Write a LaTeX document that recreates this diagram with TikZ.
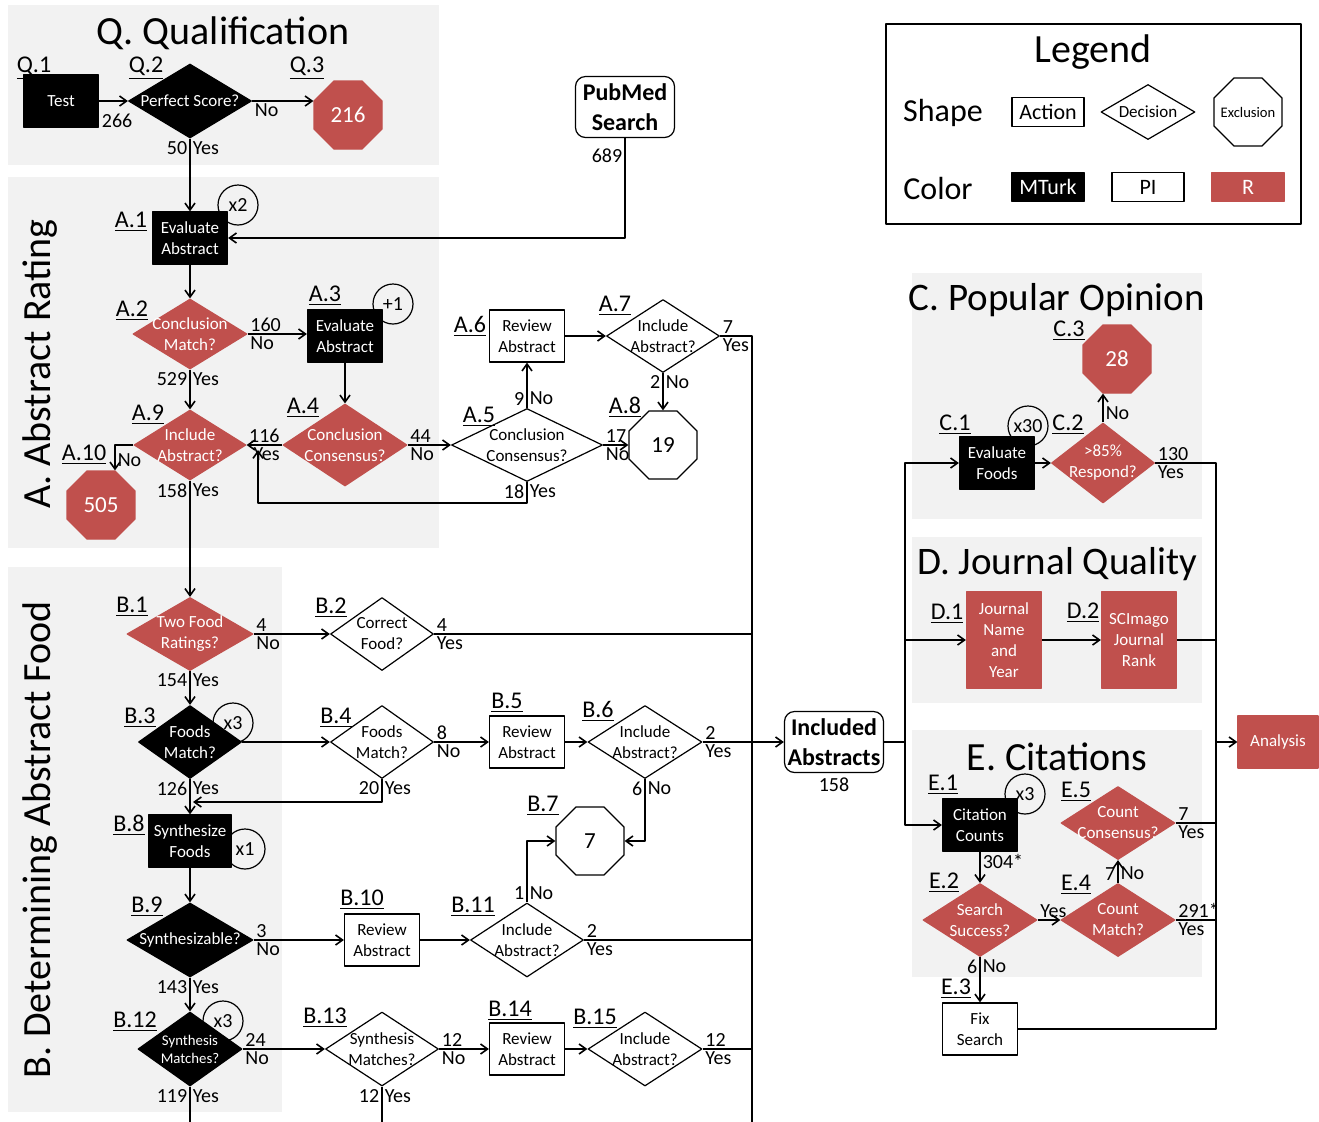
\documentclass[tikz,border=0pt]{standalone}
\usepackage{fontspec}
\setmainfont{Carlito}
\usetikzlibrary{arrows.meta, positioning, calc, shapes.geometric}

\definecolor{rred}{HTML}{C0504D}
\definecolor{panel}{HTML}{F2F2F2}

\begin{document}
\begin{tikzpicture}[x=0.5pt, y=-0.5pt, line width=0.8pt, >={Straight Barb[length=3.5pt, width=5pt]}, line join=round]

	%======================
	% SIZES (edit here)
	%======================
	\def\bw{37.5pt}      % action box width
	\def\bh{26pt}        % action box height
	\def\oct{36.8pt}     % octagon (circumscribed) size
	
	% Styles
	\tikzset{
		base/.style={font=\fontsize{8.5}{10.5}\selectfont, align=center, inner sep=0pt, line width=0.6pt},
		act/.style={base, rectangle, minimum width=\bw, minimum height=\bh},
		dec/.style={base, diamond, inner sep=-12pt, minimum width=57pt, minimum height=36.5pt},
		oct/.style={base, regular polygon, regular polygon sides=8, minimum size=\oct, font=\fontsize{11.5}{13}\selectfont},
		circ/.style={base, circle, draw, minimum size=20pt, font=\fontsize{10}{12}\selectfont},
		src/.style={base, rectangle, draw, fill=white, rounded corners=5pt, minimum width=49.5pt, minimum height=30.5pt, font=\bfseries\fontsize{12}{15}\selectfont},
		lgbox/.style={act, minimum width=36pt, minimum height=14.5pt, font=\fontsize{11}{13}\selectfont},
		mturk/.style={fill=black, draw=black, text=white},
		pinv/.style={fill=white, draw=black, text=black},
		rcol/.style={fill=rred, draw=rred, text=white},
		stp/.style={font=\fontsize{12}{14}\selectfont, inner sep=0pt},
		cnt/.style={font=\fontsize{10}{12}\selectfont, inner sep=1pt},
		ttl/.style={font=\fontsize{20}{24}\selectfont, inner sep=0pt}
	}
	
	\useasboundingbox (0,0) rectangle (1319,1121);
	\clip (0,0) rectangle (1319,1121);
	\fill[white] (0,0) rectangle (1319,1121);
	
	%======================
	% PANELS AND TITLES
	%======================
	\fill[panel] (8,5) rectangle (439,165);
	\fill[panel] (8,177) rectangle (439,548);
	\fill[panel] (8,567) rectangle (282,1112);
	\fill[panel] (912,273) rectangle (1202,519);
	\fill[panel] (912,537) rectangle (1202,703);
	\fill[panel] (912,730) rectangle (1202,977);
	
	\node[ttl, anchor=base] (t-q) at (223,44) {Q. Qualification};
	\node[ttl, rotate=90] (t-a) at (40,364) {A. Abstract Rating};
	\node[ttl, rotate=90] (t-b) at (40,840) {B. Determining Abstract Food};
	\node[ttl, font=\fontsize{19.5}{23}\selectfont] (t-c) at (1057,300) {C. Popular Opinion};
	\node[ttl, font=\fontsize{19.5}{23}\selectfont] (t-d) at (1057,564) {D. Journal Quality};
	\node[ttl] (t-e) at (1057,757) {E. Citations};
	
	%======================
	% LEGEND
	%======================
	\draw[line width=0.6pt] (886,24) rectangle (1301,224);
	\node[ttl] (lg-title) at (1093,52) {Legend};
	\node[font=\fontsize{16}{19}\selectfont, inner sep=0pt] (lg-shape) at (943,113) {Shape};
	\node[font=\fontsize{16}{19}\selectfont, inner sep=0pt] (lg-color) at (938,188) {Color};
	\node[lgbox, pinv] (lg-act) at (1048,112) {Action};
	\node[dec, pinv, minimum width=47pt, minimum height=27.5pt] (lg-dec) at (1148,112) {Decision};
	\node[oct, pinv, inner sep=-6pt, font=\fontsize{7.3}{9}\selectfont] (lg-exc) at (1248,112) {Exclusion};
	\node[lgbox, mturk] (lg-mt) at (1048,187) {MTurk};
	\node[lgbox, pinv] (lg-pi) at (1148,187) {PI};
	\node[lgbox, rcol] (lg-r) at (1248,187) {R};
	
	%======================
	% REPEAT CIRCLES (behind the boxes)
	%======================
	\node[circ] (r-a1) at (238,205) {x2};
	\node[circ] (r-a3) at (393,304) {+1};
	\node[circ] (r-b3) at (233,723) {x3};
	\node[circ] (r-b8) at (245,849) {x1};
	\node[circ] (r-b12) at (223,1021) {x3};
	\node[circ] (r-c1) at (1028,426) {x30};
	\node[circ] (r-e1) at (1025,794) {x3};
	
	%======================
	% Q. QUALIFICATION
	%======================
	\node[act, mturk] (q1) at (61,101) {Test};
	\node[dec, mturk, minimum width=61.5pt, minimum height=37pt] (q2) at (190,101) {Perfect Score?};
	\node[oct, rcol] (q3) at (348,115) {216};
	\node[src] (pub) at (625,107) {PubMed\\Search};
	
	%======================
	% A. ABSTRACT RATING
	%======================
	\node[act, mturk] (a1) at (190,238) {Evaluate\\Abstract};
	\node[dec, rcol, minimum height=35pt] (a2) at (190,334) {Conclusion\\Match?};
	\node[act, mturk] (a3) at (345,336) {Evaluate\\Abstract};
	\node[dec, rcol, minimum width=62pt, minimum height=41pt] (a4) at (345,445) {Conclusion\\Consensus?};
	\node[dec, pinv, minimum width=75.5pt] (a5) at (527,445) {Conclusion\\Consensus?};
	\node[act, pinv] (a6) at (527,336) {Review\\Abstract};
	\node[dec, pinv, minimum width=56.5pt] (a7) at (663,336) {Include\\Abstract?};
	\node[oct, pinv] (a8) at (663,445) {19};
	\node[dec, rcol, minimum width=56pt, minimum height=35pt] (a9) at (190,445) {Include\\Abstract?};
	\node[oct, rcol] (a10) at (101,505) {505};
	
	%======================
	% B. DETERMINING ABSTRACT FOOD
	%======================
	\node[dec, rcol, minimum width=63pt] (b1) at (190,634) {Two Food\\Ratings?};
	\node[dec, pinv, minimum width=51.5pt] (b2) at (382,634) {Correct\\Food?};
	\node[dec, mturk, minimum width=51.5pt] (b3) at (190,742) {Foods\\Match?};
	\node[dec, pinv, minimum width=51.5pt] (b4) at (382,742) {Foods\\Match?};
	\node[act, pinv] (b5) at (527,742) {Review\\Abstract};
	\node[dec, pinv] (b6) at (645,742) {Include\\Abstract?};
	\node[oct, pinv] (b7) at (590,841) {7};
	\node[act, mturk, minimum width=41.5pt] (b8) at (190,841) {Synthesize\\Foods};
	\node[dec, mturk, minimum width=63pt, minimum height=37pt] (b9) at (190,940) {Synthesizable?};
	\node[act, pinv] (b10) at (382,940) {Review\\Abstract};
	\node[dec, pinv, minimum width=56.5pt, minimum height=37pt] (b11) at (527,940) {Include\\Abstract?};
	\node[dec, mturk, minimum width=52pt, minimum height=37pt, font=\fontsize{7.4}{9}\selectfont] (b12) at (190,1049) {Synthesis\\Matches?};
	\node[dec, pinv, minimum width=56.5pt, minimum height=37pt] (b13) at (382,1049) {Synthesis\\Matches?};
	\node[act, pinv] (b14) at (527,1049) {Review\\Abstract};
	\node[dec, pinv, minimum height=37pt] (b15) at (645,1049) {Include\\Abstract?};
	
	\node[src, label={[cnt, yshift=-1pt]below:158}] (ia) at (834,742) {Included\\Abstracts};
	
	%======================
	% C, D, E AND ANALYSIS
	%======================
	\node[act, mturk] (c1) at (997,463) {Evaluate\\Foods};
	\node[dec, rcol, minimum width=51.5pt, minimum height=40pt] (c2) at (1103,463) {>85\%\\Respond?};
	\node[oct, rcol] (c3) at (1117,359) {28};
	\node[act, rcol, minimum height=48pt] (d1) at (1004,640) {Journal\\Name\\and\\Year};
	\node[act, rcol, minimum height=48pt] (d2) at (1139,640) {SCImago\\Journal\\Rank};
	\node[act, mturk] (e1) at (980,825) {Citation\\Counts};
	\node[dec, rcol] (e2) at (980,920) {Search\\Success?};
	\node[act, pinv] (e3) at (980,1029) {Fix\\Search};
	\node[dec, rcol] (e4) at (1118,920) {Count\\Match?};
	\node[dec, rcol] (e5) at (1118,823) {Count\\Consensus?};
	\node[act, rcol, minimum width=40pt] (an) at (1278,742) {Analysis};
	
	%======================
	% STEP LABELS
	%======================
	\node[stp, anchor=north] (l-q1) at (34,56) {\underline{Q.1}};
	\node[stp, anchor=north] (l-q2) at (146,56) {\underline{Q.2}};
	\node[stp, anchor=north] (l-q3) at (307,56) {\underline{Q.3}};
	\node[stp] (l-a1) at (131,222) {\underline{A.1}};
	\node[stp] (l-a2) at (132,311) {\underline{A.2}};
	\node[stp] (l-a3) at (325,296) {\underline{A.3}};
	\node[stp] (l-a4) at (303,408) {\underline{A.4}};
	\node[stp] (l-a5) at (479,417) {\underline{A.5}};
	\node[stp] (l-a6) at (470,326) {\underline{A.6}};
	\node[stp] (l-a7) at (615,306) {\underline{A.7}};
	\node[stp] (l-a8) at (625,407) {\underline{A.8}};
	\node[stp] (l-a9) at (148,415) {\underline{A.9}};
	\node[stp] (l-a10) at (84,455) {\underline{A.10}};
	\node[stp] (l-b1) at (132,607) {\underline{B.1}};
	\node[stp] (l-b2) at (331,608) {\underline{B.2}};
	\node[stp] (l-b3) at (140,718) {\underline{B.3}};
	\node[stp] (l-b4) at (336,718) {\underline{B.4}};
	\node[stp] (l-b5) at (507,703) {\underline{B.5}};
	\node[stp] (l-b6) at (598,711) {\underline{B.6}};
	\node[stp] (l-b7) at (543,806) {\underline{B.7}};
	\node[stp] (l-b8) at (129,825) {\underline{B.8}};
	\node[stp] (l-b9) at (147,907) {\underline{B.9}};
	\node[stp] (l-b10) at (362,900) {\underline{B.10}};
	\node[stp] (l-b11) at (473,907) {\underline{B.11}};
	\node[stp] (l-b12) at (135,1022) {\underline{B.12}};
	\node[stp] (l-b13) at (325,1018) {\underline{B.13}};
	\node[stp] (l-b14) at (510,1011) {\underline{B.14}};
	\node[stp] (l-b15) at (595,1019) {\underline{B.15}};
	\node[stp] (l-c1) at (955,425) {\underline{C.1}};
	\node[stp] (l-c2) at (1068,425) {\underline{C.2}};
	\node[stp] (l-c3) at (1069,331) {\underline{C.3}};
	\node[stp] (l-d1) at (947,614) {\underline{D.1}};
	\node[stp] (l-d2) at (1083,613) {\underline{D.2}};
	\node[stp] (l-e1) at (943,785) {\underline{E.1}};
	\node[stp] (l-e2) at (944,883) {\underline{E.2}};
	\node[stp] (l-e3) at (956,989) {\underline{E.3}};
	\node[stp] (l-e4) at (1076,885) {\underline{E.4}};
	\node[stp] (l-e5) at (1076,792) {\underline{E.5}};
	
	%======================
	% BUSES
	%======================
	\coordinate (floor) at (0,1125);
	\coordinate (mbus) at (752,742);
	\coordinate (lbus) at (905,742);
	\coordinate (rbus) at (1216,742);
	\coordinate (a9in) at (258,450);
	\coordinate (b8in) at (193,802);
	
	%======================
	% CONNECTORS
	%======================
	% Q
	\draw[->] (q1.east) -- node[cnt, at start, below right, yshift=-5pt]{266} (q2.west);
	\draw[->] (q2.east) -- node[cnt, at start, below right]{No} (q2.east -| q3.west);
	\draw[->] (q2.south) -- node[cnt, at start, below left]{50} node[cnt, at start, below right]{Yes} (a1.north);
	\draw[->] (pub.south) |- node[cnt, at start, below left, yshift=-4pt]{689} (a1.east);
	
	% A
	\draw[->] (a1.south) -- (a2.north);
	\draw[->] (a2.east) -- node[cnt, at start, above right]{160} node[cnt, at start, below right]{No} (a2.east -| a3.west);
	\draw[->] (a2.south) -- node[cnt, at start, below left]{529} node[cnt, at start, below right]{Yes} (a9.north);
	\draw[->] (a3.south) -- (a4.north);
	\draw[->] (a4.west) -- node[cnt, at start, above left]{116} node[cnt, at start, below left]{Yes} (a9.east);
	\draw[->] (a4.east) -- node[cnt, at start, above right]{44} node[cnt, at start, below right]{No} (a5.west);
	\draw[->] (a5.north) -- node[cnt, at start, above left]{9} node[cnt, at start, above right]{No} (a6.south);
	\draw[->] (a5.east) -- node[cnt, at start, above right]{17} node[cnt, at start, below right]{No} (a8.west);
	\draw[->] (a5.south) -- node[cnt, at start, below left]{18} node[cnt, at start, below right]{Yes} ++(0,21) -| (a9in);
	\draw[->] (a6.east) -- (a7.west);
	\draw[->] (a7.south) -- node[cnt, at start, below left]{2} node[cnt, at start, below right]{No} (a8.north);
	\draw (a7.east) -| node[cnt, at start, above right]{7} node[cnt, at start, below right]{Yes} (mbus |- floor);
	\draw[->] (a9.west) -| node[cnt, pos=0.8, right]{No} ([xshift=7pt]a10.north);
	\draw[->] (a9.south) -- node[cnt, at start, below left]{158} node[cnt, at start, below right]{Yes} (b1.north);
	
	% B
	\draw[->] (b1.east) -- node[cnt, at start, above right]{4} node[cnt, at start, below right]{No} (b2.west);
	\draw (b2.east) -- node[cnt, at start, above right]{4} node[cnt, at start, below right]{Yes} (b2.east -| mbus);
	\draw[->] (b1.south) -- node[cnt, at start, below left]{154} node[cnt, at start, below right]{Yes} (b3.north);
	\draw[->] (b3.east) -- (b4.west);
	\draw[->] (b4.east) -- node[cnt, at start, above right]{8} node[cnt, at start, below right]{No} (b5.west);
	\draw[->] (b5.east) -- (b6.west);
	\draw (b6.east) -- node[cnt, at start, above right]{2} node[cnt, at start, below right]{Yes} (b6.east -| mbus);
	\draw[->] (b6.south) |- node[cnt, at start, below left]{6} node[cnt, at start, below right]{No} (b7.east);
	\draw[->] (b4.south) |- node[cnt, at start, below left]{20} node[cnt, at start, below right]{Yes} (b8in);
	\draw[->] (b3.south) -- node[cnt, at start, below left]{126} node[cnt, at start, below right]{Yes} (b8.north);
	\draw[->] (b8.south) -- (b9.north);
	\draw[->] (b9.east) -- node[cnt, at start, above right]{3} node[cnt, at start, below right]{No} (b10.west);
	\draw[->] (b10.east) -- (b11.west);
	\draw (b11.east) -- node[cnt, at start, above right]{2} node[cnt, at start, below right]{Yes} (b11.east -| mbus);
	\draw[->] (b11.north) |- node[cnt, at start, above left]{1} node[cnt, at start, above right]{No} (b7.west);
	\draw[->] (b9.south) -- node[cnt, at start, below left]{143} node[cnt, at start, below right]{Yes} (b12.north);
	\draw[->] (b12.east) -- node[cnt, at start, above right]{24} node[cnt, at start, below right]{No} (b13.west);
	\draw[->] (b13.east) -- node[cnt, at start, above right]{12} node[cnt, at start, below right]{No} (b14.west);
	\draw[->] (b14.east) -- (b15.west);
	\draw (b15.east) -- node[cnt, at start, above right]{12} node[cnt, at start, below right]{Yes} (b15.east -| mbus);
	\draw (b12.south) -- node[cnt, at start, below left]{119} node[cnt, at start, below right]{Yes} (b12.south |- floor);
	\draw (b13.south) -- node[cnt, at start, below left]{12} node[cnt, at start, below right]{Yes} (b13.south |- floor);
	
	% collecting buses
	\draw[->] (mbus) -- (ia.west);
	\draw (ia.east) -- (lbus);
	\draw[->] (lbus) |- (c1.west);
	\draw[->] (lbus) |- (e1.west);
	\draw[->] (d1.west -| lbus) -- (d1.west);
	
	% C
	\draw[->] (c1.east) -- (c2.west);
	\draw[->] (c2.north) -- node[cnt, at start, above right]{No} (c2.north |- c3.south);
	\draw (c2.east) -| node[cnt, at start, above right]{130} node[cnt, at start, below right]{Yes} (rbus);
	
	% D
	\draw[->] (d1.east) -- (d2.west);
	\draw (d2.east) -- (d2.east -| rbus);
	
	% E
	\draw[->] (e1.south) -- node[cnt, at start, below right]{304*} (e2.north);
	\draw[->] (e2.east) -- node[cnt, at start, above right]{Yes} (e4.west);
	\draw[->] (e2.south) -- node[cnt, at start, below left]{6} node[cnt, at start, below right]{No} (e3.north);
	\draw[->] (e4.north) -- node[cnt, at start, above left]{7} node[cnt, at start, above right]{No} (e5.south);
	\draw (e4.east) -- node[cnt, at start, above right]{291*} node[cnt, at start, below right]{Yes} (e4.east -| rbus);
	\draw (e5.east) -- node[cnt, at start, above right]{7} node[cnt, at start, below right]{Yes} (e5.east -| rbus);
	\draw (e3.east) -| (rbus);
	\draw[->] (rbus) -- (an.west);
\end{tikzpicture}
\end{document}
